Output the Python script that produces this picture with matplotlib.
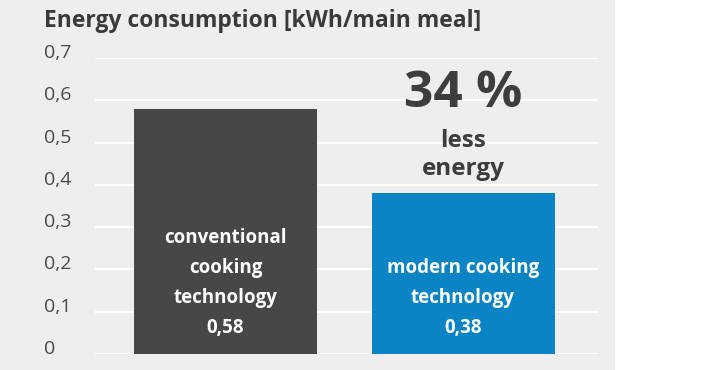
import matplotlib.pyplot as plt
from matplotlib.patches import Rectangle

# data
categories = ['conventional\ncooking\ntechnology', 'modern cooking\ntechnology']
values = [0.58, 0.38]
value_labels = ['0,58', '0,38']
yticks = [0, 0.1, 0.2, 0.3, 0.4, 0.5, 0.6, 0.7]
ytick_labels = ['0', '0,1', '0,2', '0,3', '0,4', '0,5', '0,6', '0,7']
colors = ['#474747', '#0a84c4']

plt.rcParams['font.family'] = ['Open Sans', 'DejaVu Sans']

W, H = 725, 370
fig = plt.figure(figsize=(W / 100, H / 100), dpi=100)
fig.patch.set_facecolor('white')
# grey panel behind the chart
fig.patches.append(Rectangle((0, 0), 615 / W, 1, transform=fig.transFigure,
                             facecolor='#eeeeee', edgecolor='none', zorder=-10))

ax = fig.add_axes([95 / W, (H - 354) / H, (598 - 95) / W, (354 - 58) / H])
ax.set_facecolor('none')

x = range(len(values))
ax.bar(x, values, width=0.77, color=colors, zorder=3)

ax.set_xlim(-0.549, 1.568)
ax.set_ylim(0, 0.7)
ax.set_yticks(yticks)
ax.set_yticklabels(ytick_labels, fontsize=14, color='#4a4a4a')
for lbl in ax.get_yticklabels():
    lbl.set_ha('left')
    lbl.set_va('baseline')
ax.tick_params(axis='y', length=0, pad=36.5)
ax.set_xticks([])
ax.grid(axis='y', color='white', linewidth=1.6, zorder=0)
for s in ax.spines.values():
    s.set_visible(False)

# labels inside bars
for i, (cat, lab) in enumerate(zip(categories, value_labels)):
    ax.text(i, 0.037, cat + '\n' + lab, ha='center', va='bottom',
            fontsize=13.5, fontweight='bold', color='white',
            linespacing=1.68, zorder=4)

# annotation above the modern bar
ax.text(1, 0.615, '34 %', ha='center', va='center', fontsize=37,
        fontweight='bold', color='#3d3d3d')
ax.text(1, 0.49, 'less', ha='center', va='baseline', fontsize=17.5,
        fontweight='bold', color='#3d3d3d')
ax.text(1, 0.424, 'energy', ha='center', va='baseline', fontsize=17.5,
        fontweight='bold', color='#3d3d3d')

fig.text(44 / W, 1 - 27 / H, 'Energy consumption [kWh/main meal]',
         ha='left', va='baseline', fontsize=16.5, fontweight='bold', color='#3a3a3a')

fig.savefig('out.png', dpi=100)
